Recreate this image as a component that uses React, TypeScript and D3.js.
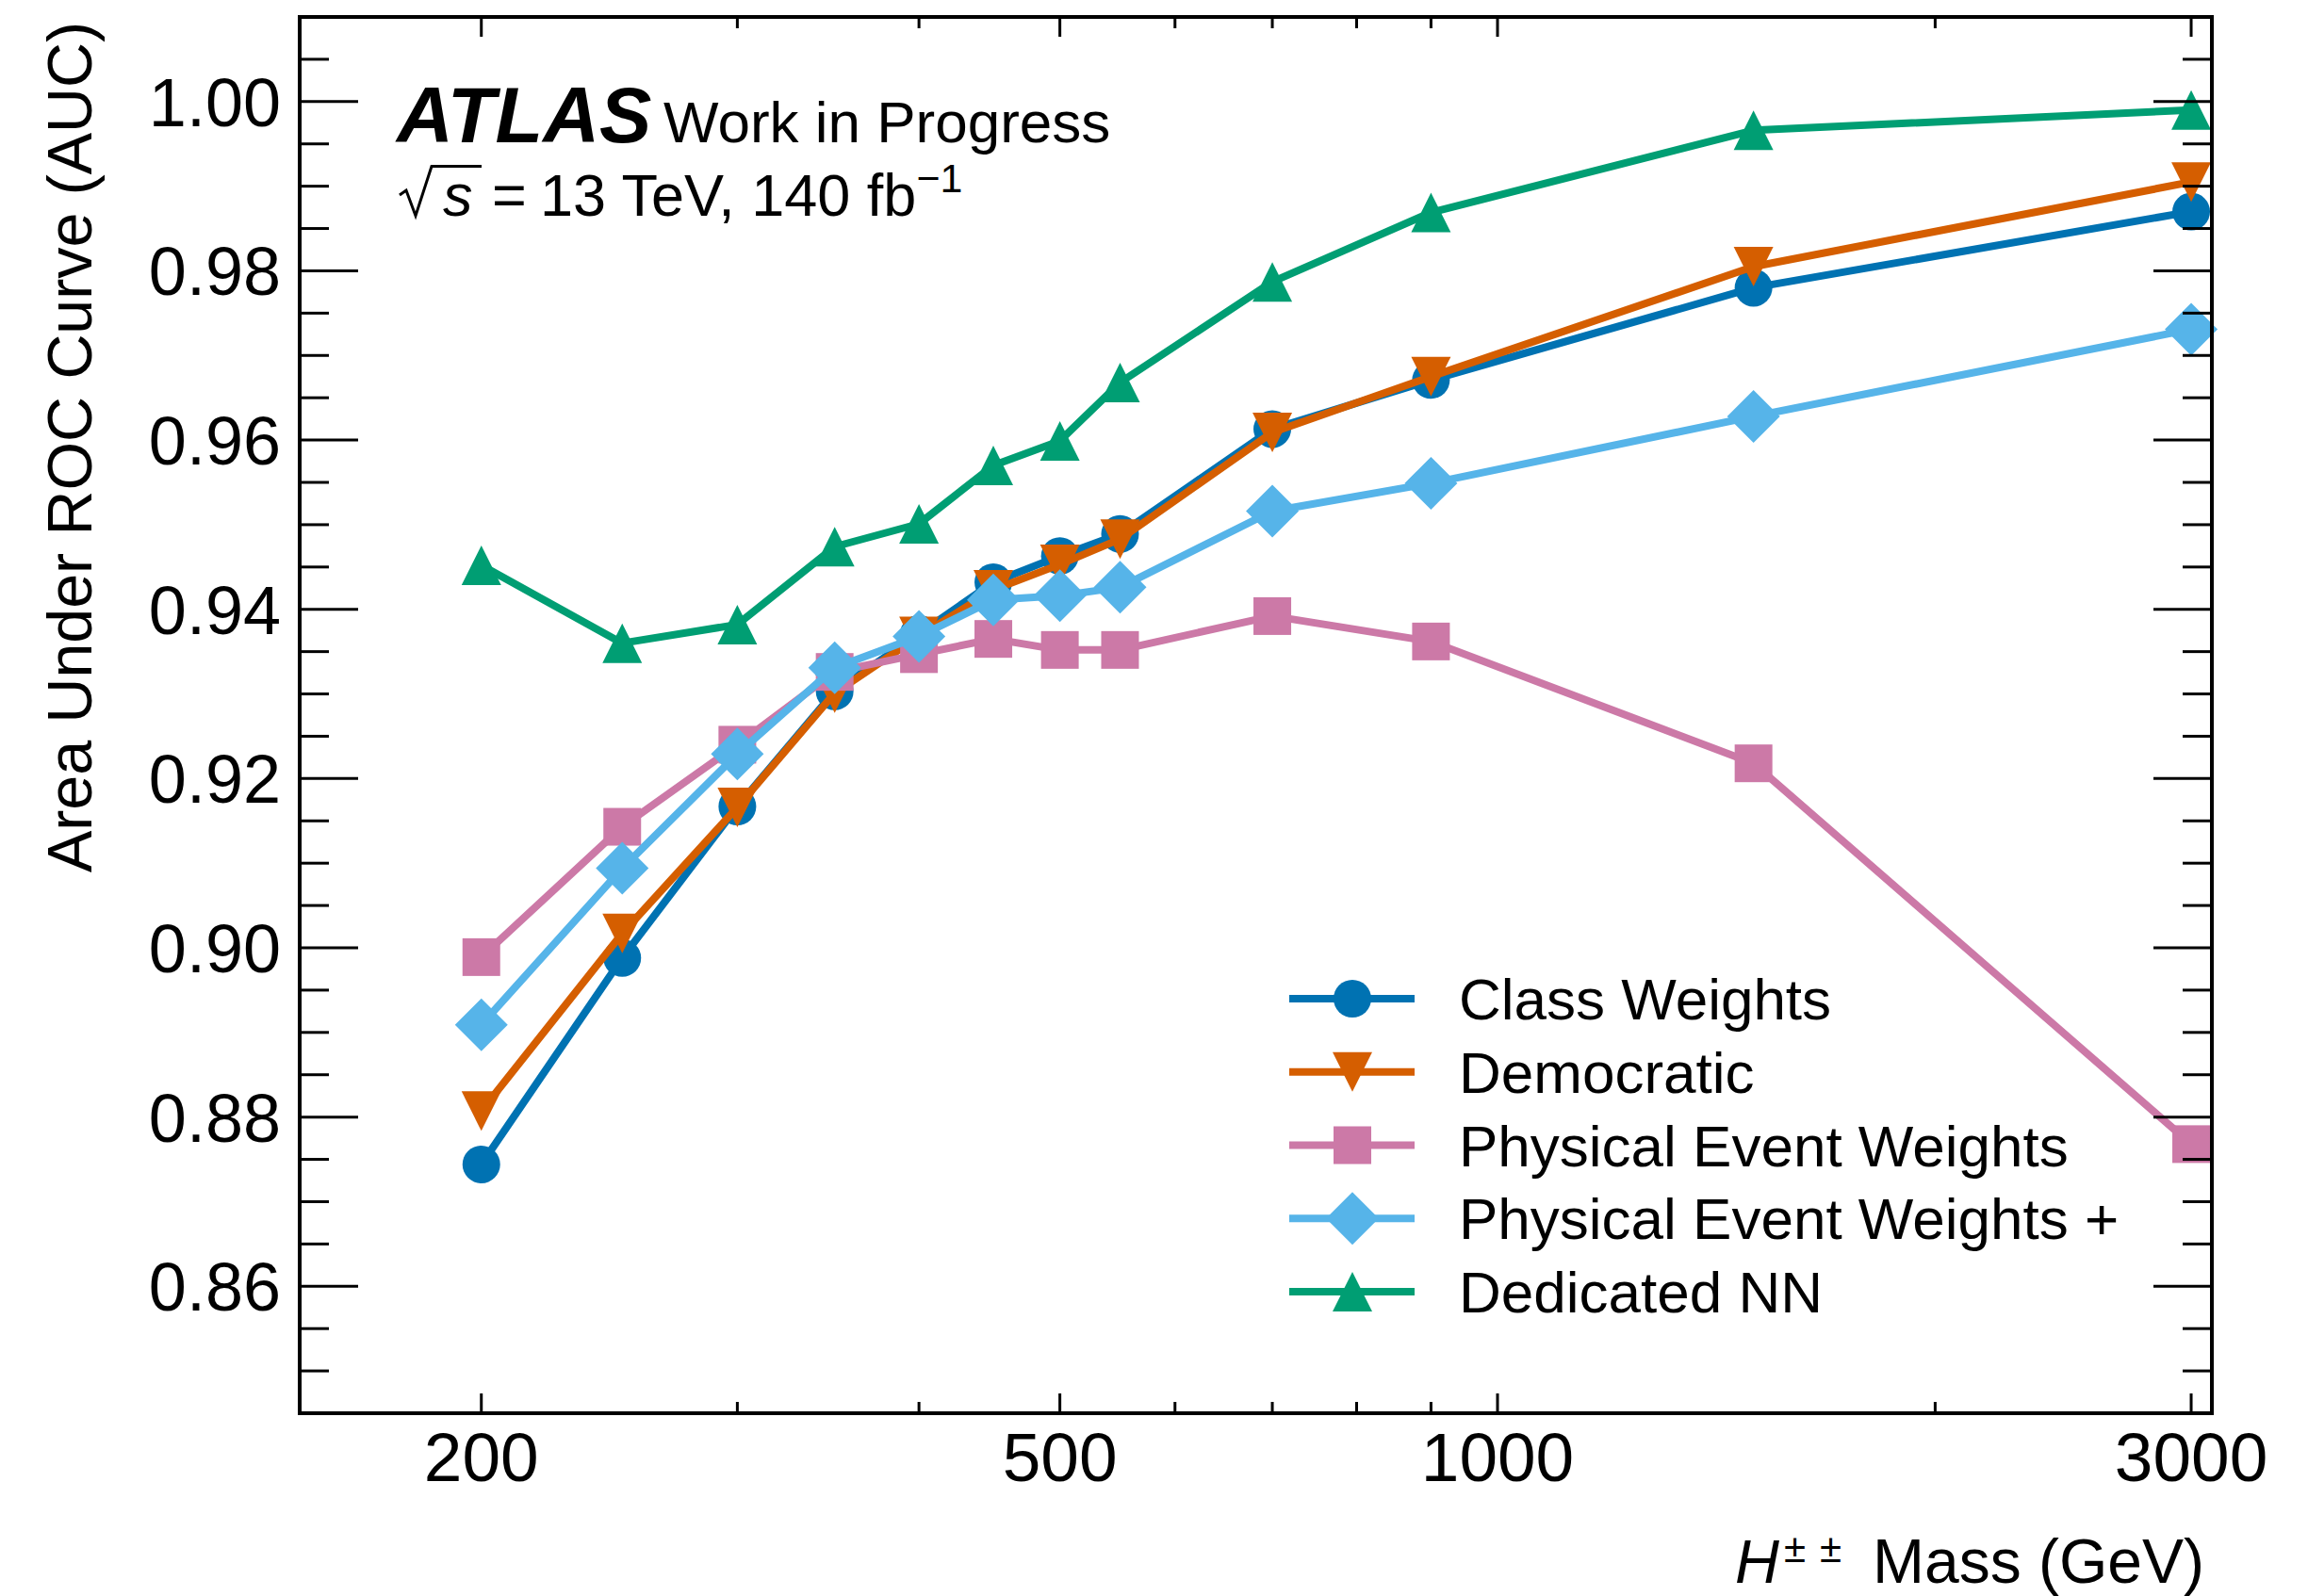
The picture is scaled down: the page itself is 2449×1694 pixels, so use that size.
import React from 'react';
import * as d3 from 'd3';

// ---- data ----
const masses = [200, 250, 300, 350, 400, 450, 500, 550, 700, 900, 1500, 3000];
const classWeights = [0.8744, 0.8988, 0.9167, 0.9303, 0.9371, 0.9432, 0.9463, 0.9489, 0.9613, 0.9671, 0.9780, 0.9870];
const democratic = [0.8807, 0.9017, 0.9166, 0.9301, 0.9368, 0.9423, 0.9453, 0.9483, 0.9609, 0.9675, 0.9805, 0.9905];
const physicalEventWeights = [0.8989, 0.9143, 0.9240, 0.9326, 0.9347, 0.9365, 0.9352, 0.9352, 0.9392, 0.9362, 0.9218, 0.8768];
const physicalEventWeightsPlus = [0.8909, 0.9094, 0.9229, 0.9331, 0.9368, 0.9411, 0.9416, 0.9426, 0.9516, 0.9549, 0.9628, 0.9731];
const dedicatedNN = [0.9452, 0.9360, 0.9382, 0.9474, 0.9501, 0.9570, 0.9599, 0.9668, 0.9787, 0.9869, 0.9966, 0.9990];

const seriesNames = ['Class Weights', 'Democratic', 'Physical Event Weights', 'Physical Event Weights +', 'Dedicated NN'];
const seriesValues = [classWeights, democratic, physicalEventWeights, physicalEventWeightsPlus, dedicatedNN];
const seriesColors = ['#0072B2', '#D55E00', '#CC79A7', '#56B4E9', '#009E73'];
const seriesMarkers = ['circle', 'triangleDown', 'square', 'diamond', 'triangleUp'];

const xMajorTicks = [200, 500, 1000, 3000];
const xMinorTicks = [300, 400, 600, 700, 800, 900, 2000];
const yMajorTicks = [0.86, 0.88, 0.90, 0.92, 0.94, 0.96, 0.98, 1.00];

const W = 2449;
const H = 1694;
const FONT = '"Liberation Sans", Arial, Helvetica, sans-serif';
const LW = 8;

const x = d3.scaleLog().domain([150, 3100]).range([318, 2347]);
const y = d3.scaleLinear().domain([0.845, 1.01]).range([1500, 18]);

const yMinorTicks = d3.range(0.85, 1.0051, 0.005).filter(
  (v) => !yMajorTicks.some((m) => Math.abs(m - v) < 1e-6)
);

function Marker({ type, cx, cy, color }: { type: string; cx: number; cy: number; color: string }) {
  if (type === 'circle') return <circle cx={cx} cy={cy} r={20} fill={color} />;
  if (type === 'square') return <rect x={cx - 20} y={cy - 20} width={40} height={40} fill={color} />;
  let pts: number[][] = [];
  if (type === 'triangleDown') pts = [[cx - 21, cy - 21], [cx + 21, cy - 21], [cx, cy + 21]];
  if (type === 'triangleUp') pts = [[cx, cy - 21], [cx - 21, cy + 21], [cx + 21, cy + 21]];
  if (type === 'diamond') pts = [[cx, cy - 28], [cx + 28, cy], [cx, cy + 28], [cx - 28, cy]];
  return <polygon points={pts.map((p) => p.join(',')).join(' ')} fill={color} />;
}

export default function App() {
  const line = d3
    .line<[number, number]>()
    .x((d) => x(d[0]))
    .y((d) => y(d[1]));

  const legendX0 = 1368;
  const legendX1 = 1501;
  const legendMx = 1435;
  const legendY0 = 1060;
  const legendDy = 77.75;

  return (
    <svg
      width={W}
      height={H}
      viewBox={`0 0 ${W} ${H}`}
      style={{ position: 'absolute', left: 0, top: 0, background: '#fff' }}
      fontFamily={FONT}
    >
      <rect x={0} y={0} width={W} height={H} fill="#fff" />

      {/* series */}
      {seriesValues.map((vals, i) => {
        const pts: [number, number][] = masses.map((m, j) => [m, vals[j]]);
        return (
          <g key={seriesNames[i]}>
            <path
              d={line(pts) || ''}
              fill="none"
              stroke={seriesColors[i]}
              strokeWidth={LW}
              strokeLinejoin="round"
              strokeLinecap="butt"
            />
            {pts.map((p, j) => (
              <Marker key={j} type={seriesMarkers[i]} cx={x(p[0])} cy={y(p[1])} color={seriesColors[i]} />
            ))}
          </g>
        );
      })}

      {/* frame */}
      <rect x={318} y={18} width={2347 - 318} height={1500 - 18} fill="none" stroke="#000" strokeWidth={4} />

      {/* y ticks */}
      {yMajorTicks.map((v) => (
        <g key={'ym' + v}>
          <line x1={318} x2={380} y1={y(v)} y2={y(v)} stroke="#000" strokeWidth={3} />
          <line x1={2347} x2={2285} y1={y(v)} y2={y(v)} stroke="#000" strokeWidth={3} />
          <text x={298} y={y(v) + 26} textAnchor="end" fontSize={72} fill="#000">
            {v.toFixed(2)}
          </text>
        </g>
      ))}
      {yMinorTicks.map((v) => (
        <g key={'yn' + v}>
          <line x1={318} x2={349} y1={y(v)} y2={y(v)} stroke="#000" strokeWidth={3} />
          <line x1={2347} x2={2316} y1={y(v)} y2={y(v)} stroke="#000" strokeWidth={3} />
        </g>
      ))}

      {/* x ticks */}
      {xMajorTicks.map((v) => (
        <g key={'xm' + v}>
          <line x1={x(v)} x2={x(v)} y1={1500} y2={1479} stroke="#000" strokeWidth={3} />
          <line x1={x(v)} x2={x(v)} y1={18} y2={39} stroke="#000" strokeWidth={3} />
          <text x={x(v)} y={1572} textAnchor="middle" fontSize={73} fill="#000">
            {String(v)}
          </text>
        </g>
      ))}
      {xMinorTicks.map((v) => (
        <g key={'xn' + v}>
          <line x1={x(v)} x2={x(v)} y1={1500} y2={1488} stroke="#000" strokeWidth={3} />
          <line x1={x(v)} x2={x(v)} y1={18} y2={30} stroke="#000" strokeWidth={3} />
        </g>
      ))}

      {/* axis labels */}
      <text
        transform="translate(97,926) rotate(-90)"
        fontSize={67}
        textLength={903}
        lengthAdjust="spacingAndGlyphs"
        fill="#000"
      >
        Area Under ROC Curve (AUC)
      </text>

      <text x={1841} y={1680} fontSize={65} fontStyle="italic" fill="#000">H</text>
      <text x={1893} y={1658} fontSize={42} fill="#000">±</text>
      <text x={1931} y={1658} fontSize={42} fill="#000">±</text>
      <text x={1987} y={1680} fontSize={66} fill="#000">Mass (GeV)</text>

      {/* ATLAS label */}
      <text x={421} y={151} fontSize={83} fontWeight="bold" fontStyle="italic" fill="#000">ATLAS</text>
      <text x={704} y={151} fontSize={62} fill="#000">Work in Progress</text>
      <path d="M 424 207 L 431 202 L 441 229 L 458 176.5 L 511 176.5" fill="none" stroke="#000" strokeWidth={3} />
      <text x={470} y={229} fontSize={63} fontStyle="italic" fill="#000">s</text>
      <text x={522} y={229} fontSize={63} fill="#000">=</text>
      <text x={573} y={229} fontSize={63} fill="#000">
        13 TeV, 140 fb<tspan dy={-25} fontSize={43}>−1</tspan>
      </text>

      {/* legend */}
      {seriesNames.map((name, i) => {
        const ly = legendY0 + i * legendDy;
        return (
          <g key={'lg' + name}>
            <line x1={legendX0} x2={legendX1} y1={ly} y2={ly} stroke={seriesColors[i]} strokeWidth={LW} />
            <Marker type={seriesMarkers[i]} cx={legendMx} cy={ly} color={seriesColors[i]} />
            <text x={1548} y={ly + 22} fontSize={62} fill="#000">
              {name}
            </text>
          </g>
        );
      })}
    </svg>
  );
}
